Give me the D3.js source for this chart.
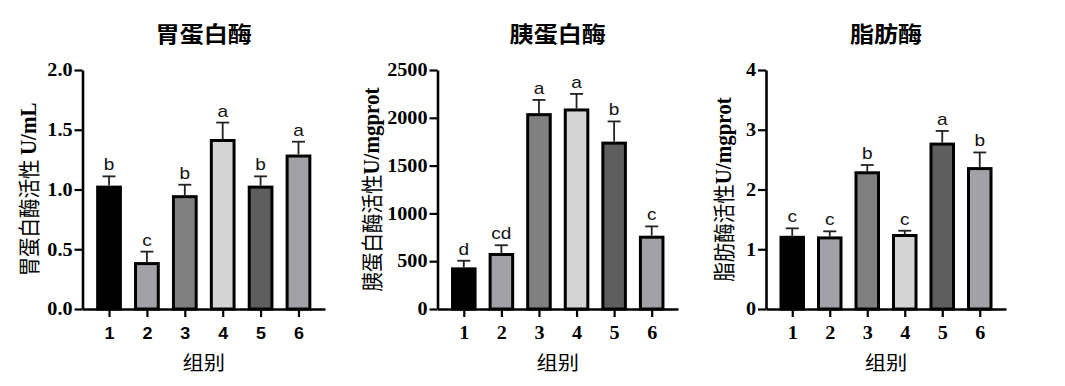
<!DOCTYPE html>
<html><head><meta charset="utf-8">
<script src="https://cdn.jsdelivr.net/npm/d3@7"></script>
<style>body{margin:0;background:#fff}</style>
</head><body>
<svg id="c" width="1065" height="386"></svg>
<script>
const groups = ["1","2","3","4","5","6"];
const barColors = ["#000000","#a1a1a7","#808080","#d5d5d5","#5e5e5e","#a1a1a7"];

const pepsinMean = [1.02,0.38,0.94,1.41,1.02,1.28];
const pepsinSD   = [0.09,0.10,0.10,0.15,0.09,0.12];
const pepsinSig  = ["b","c","b","a","b","a"];
const pepsinTicks = [0,0.5,1.0,1.5,2.0];

const trypsinMean = [420,570,2033,2082,1735,751];
const trypsinSD   = [85,97,154,168,227,113];
const trypsinSig  = ["d","cd","a","a","b","c"];
const trypsinTicks = [0,500,1000,1500,2000,2500];

const lipaseMean = [1.20,1.19,2.28,1.23,2.76,2.35];
const lipaseSD   = [0.15,0.11,0.13,0.08,0.22,0.27];
const lipaseSig  = ["c","c","b","c","a","b"];
const lipaseTicks = [0,1,2,3,4];

const titles = ["胃蛋白酶","胰蛋白酶","脂肪酶"];
const yTitleCJK = ["胃蛋白酶活性 ","胰蛋白酶活性","脂肪酶活性"];
const yTitleUnit = ["U/mL","U/mgprot","U/mgprot"];
const xTitle = "组别";

const panels = [
  {mean:pepsinMean, sd:pepsinSD, sig:pepsinSig, ticks:pepsinTicks, fmt:d3.format(".1f"), x0:82.5, x1:325, yt:28, xFont:"Liberation Sans", xSize:16},
  {mean:trypsinMean, sd:trypsinSD, sig:trypsinSig, ticks:trypsinTicks, fmt:d3.format("d"), x0:437.5, x1:678, yt:371, xFont:"Liberation Serif", xSize:18},
  {mean:lipaseMean, sd:lipaseSD, sig:lipaseSig, ticks:lipaseTicks, fmt:d3.format("d"), x0:766, x1:1006, yt:723, xFont:"Liberation Serif", xSize:18}
];
const plotTop = 70, plotBottom = 309, SX = 1.12;
const svg = d3.select("#c");

panels.forEach((p,i)=>{
  const g = svg.append("g");
  const y = d3.scaleLinear().domain([0, d3.max(p.ticks)]).range([plotBottom, plotTop]);
  const x = d3.scalePoint().domain(groups).range([p.x0, p.x1]).padding(0.7);
  const step = x.step();
  const bw = step*0.6;

  g.selectAll("rect.bar").data(groups).join("rect")
    .attr("x", d=>x(d)-bw/2).attr("width", bw)
    .attr("y", (d,k)=>y(p.mean[k])).attr("height",(d,k)=>plotBottom - y(p.mean[k]))
    .attr("fill",(d,k)=>barColors[k]).attr("stroke","#000").attr("stroke-width",3);

  groups.forEach((d,k)=>{
    const cx = x(d), yt = y(p.mean[k]+p.sd[k]), yb = y(p.mean[k]) - 1.5;
    g.append("line").attr("x1",cx).attr("x2",cx).attr("y1",yb).attr("y2",yt).attr("stroke","#222").attr("stroke-width",1.8);
    g.append("line").attr("x1",cx-6.5).attr("x2",cx+6.5).attr("y1",yt).attr("y2",yt).attr("stroke","#222").attr("stroke-width",1.8);
    g.append("text").attr("transform",`translate(${cx},${yt-6}) scale(${SX},1)`)
      .attr("text-anchor","middle").attr("font-family","Liberation Sans").attr("font-size",17)
      .attr("fill","#111").text(p.sig[k]);
  });

  const ya = g.append("g").attr("transform",`translate(${p.x0},0)`)
    .call(d3.axisLeft(y).tickValues(p.ticks).tickFormat(p.fmt).tickSize(8).tickSizeOuter(0));
  ya.select(".domain").attr("stroke-width",2.6).attr("stroke","#000");
  ya.selectAll(".tick line").attr("stroke-width",2.2).attr("stroke","#000");
  ya.selectAll(".tick text").attr("x",-10/SX).attr("transform",`scale(${SX},1)`)
    .style("font-family","Liberation Serif").style("font-weight","bold").style("font-size","18px").attr("fill","#000");

  const xa = g.append("g").attr("transform",`translate(0,${plotBottom})`)
    .call(d3.axisBottom(x).tickSize(8).tickSizeOuter(0));
  xa.select(".domain").attr("stroke-width",2.6).attr("stroke","#000");
  xa.selectAll(".tick line").attr("stroke-width",2.2).attr("stroke","#000");
  xa.selectAll(".tick text").attr("y",0).attr("dy",0).attr("transform",`translate(0,30) scale(${SX},1)`)
    .style("font-family",p.xFont).style("font-weight","bold").style("font-size",p.xSize+"px").attr("fill","#000");

  const cxp = (p.x0+p.x1)/2;
  svg.append("text").attr("transform",`translate(${cxp},42) scale(${SX},1)`)
    .attr("text-anchor","middle").attr("font-family","Noto Sans CJK SC").attr("font-weight","bold")
    .attr("font-size",21.5).attr("fill","#000").text(titles[i]);
  svg.append("text").attr("transform",`translate(${cxp},370) scale(${SX},1)`)
    .attr("text-anchor","middle").attr("font-family","Noto Sans CJK SC")
    .attr("font-size",19).attr("fill","#000").text(xTitle);
  const ytl = svg.append("text").attr("transform",`translate(${p.yt},${(plotTop+plotBottom)/2}) scale(${SX},1) rotate(-90)`)
    .attr("text-anchor","middle").attr("dominant-baseline","central").attr("fill","#000");
  ytl.append("tspan").attr("font-family","Noto Sans CJK SC").attr("font-size",19.5).text(yTitleCJK[i]);
  ytl.append("tspan").attr("font-family","Liberation Serif").attr("font-weight","bold").attr("font-size",21).text(yTitleUnit[i]);
});
</script>
</body></html>
